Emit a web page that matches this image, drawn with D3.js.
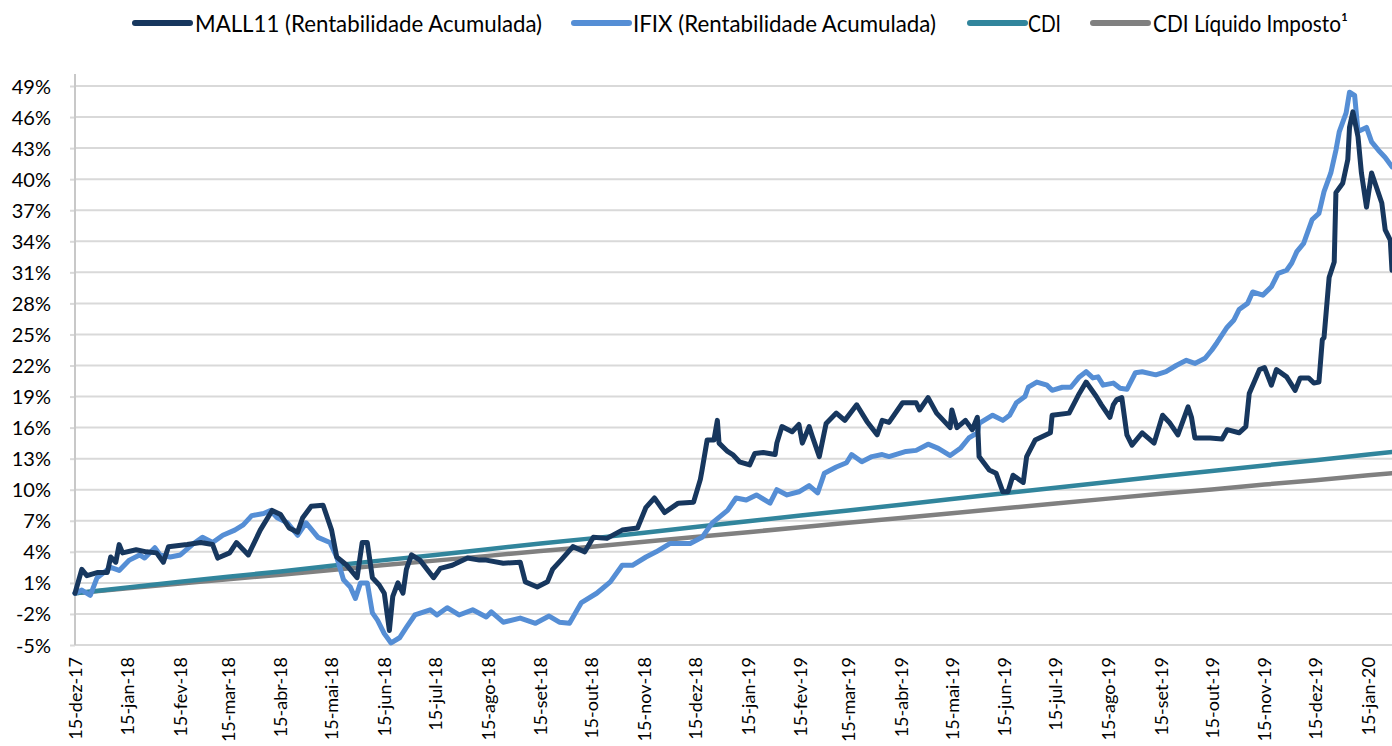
<!DOCTYPE html>
<html>
<head>
<meta charset="utf-8">
<script src="https://cdn.jsdelivr.net/npm/d3@7"></script>
<style>
  body { margin: 0; background: #fff; }
  text { font-family: Lato, "Noto Sans", sans-serif; fill: #000; }
</style>
</head>
<body>
<div id="chart"></div>
<script>
// chart values (days counted from 15-dez-17)
var mallDays = [0,4,7,13,19,21,24,26,28,36,42,48,52,55,66,74,81,84,91,95,102,109,116,121,126,131,134,139,146,151,154,160,166,169,172,175,179,182,185,187,190,193,195,198,203,211,215,222,231,238,242,252,262,265,272,278,281,286,293,300,305,313,322,331,336,341,347,355,364,368,369,372,376,378,379,384,387,391,397,400,405,412,413,416,422,426,428,432,434,438,442,448,453,460,466,472,475,479,487,495,497,502,507,515,516,519,524,528,531,532,538,542,546,549,552,558,560,565,574,575,585,591,595,601,604,609,611,613,616,619,622,628,635,640,644,649,655,657,659,668,675,678,685,689,691,697,700,704,707,713,718,721,726,729,732,734,735,738,741,742,746,749,750,752,755,757,760,763,769,771,774,775];
var mallValues = [0,2.3,1.7,2.0,2.0,3.5,3.0,4.7,3.9,4.2,4.0,3.9,3.0,4.5,4.7,4.9,4.7,3.4,3.9,4.9,3.7,6.1,8.0,7.6,6.3,5.9,7.3,8.4,8.5,6.1,3.5,2.7,1.5,4.9,4.9,1.5,0.8,0,-3.6,-0.3,1.0,0,2.3,3.7,3.2,1.5,2.4,2.7,3.4,3.2,3.2,2.9,3.0,1.1,0.6,1.1,2.3,3.2,4.5,4.0,5.4,5.3,6.1,6.3,8.3,9.2,7.8,8.7,8.8,11.0,11.9,14.8,14.8,16.7,14.5,13.7,13.4,12.7,12.4,13.5,13.6,13.4,14.5,16.1,15.6,16.3,14.5,16.1,15.1,13.2,16.4,17.4,16.7,18.2,16.6,15.3,16.7,16.5,18.4,18.4,17.7,18.9,17.4,16.0,17.7,16.0,16.7,15.8,17.0,13.2,11.9,11.6,9.8,9.8,11.4,10.7,13.2,14.8,15.5,17.2,17.4,19.3,20.4,19.0,18.2,17.0,18.2,18.7,18.9,15.3,14.3,15.5,14.5,17.2,16.5,15.3,18.0,17.0,15.0,15.0,14.9,15.8,15.5,16.1,19.3,21.6,21.8,20.1,21.6,20.9,19.6,20.8,20.8,20.3,20.4,24.5,24.7,30.5,32.0,38.7,39.6,41.9,45.0,46.5,44.1,40.6,37.3,40.6,37.7,35.1,34.1,31.2];

var ifixDays = [0,4,9,13,21,26,32,38,41,47,50,56,62,69,75,81,87,94,99,104,111,115,119,125,131,136,143,150,154,158,162,165,168,172,175,178,182,186,191,195,200,209,213,219,226,234,242,245,252,262,271,279,285,291,298,307,315,322,328,336,342,350,353,362,369,375,384,389,395,401,409,413,419,426,432,437,441,448,454,457,463,469,475,479,489,495,502,508,515,521,526,531,532,540,546,550,554,559,561,566,572,575,581,586,591,595,599,602,605,611,615,619,624,628,636,642,648,654,659,665,669,672,678,682,685,690,693,699,704,708,713,716,719,723,728,732,735,739,742,744,748,750,753,755,760,763,767,771,775];
var ifixValues = [0,0.3,-0.2,1.5,2.5,2.2,3.2,3.7,3.4,4.4,3.7,3.5,3.7,4.7,5.4,4.9,5.6,6.1,6.6,7.5,7.7,8.0,7.3,6.8,5.6,6.8,5.4,4.9,3.5,1.3,0.6,-0.5,1.0,1.0,-1.9,-2.6,-3.9,-4.8,-4.3,-3.3,-2.1,-1.6,-2.1,-1.4,-2.1,-1.6,-2.3,-1.8,-2.8,-2.4,-2.9,-2.2,-2.8,-2.9,-0.9,0,1.1,2.7,2.7,3.5,4.0,4.8,4.8,4.8,5.4,6.8,8.0,9.2,9.0,9.5,8.7,10.0,9.5,9.8,10.4,9.7,11.6,12.2,12.6,13.4,12.7,13.2,13.4,13.2,13.7,13.8,14.4,14.0,13.3,14.0,15.0,15.5,16.4,17.2,16.7,17.2,18.4,19.0,19.9,20.4,20.1,19.6,19.9,19.9,20.9,21.4,20.8,20.9,20.1,20.3,19.8,19.7,21.3,21.4,21.1,21.4,22.0,22.5,22.2,22.7,23.5,24.2,25.7,26.4,27.4,28.0,29.1,28.8,29.6,30.9,31.2,31.9,33.0,33.8,36.1,36.7,38.8,40.6,42.8,44.6,46.4,48.4,48.1,44.6,45.0,43.6,42.8,42.1,41.2];

var cdiDays = [0,31,62,90,121,151,182,212,243,274,304,335,365,396,427,455,486,516,547,577,608,639,669,700,730,761,775];
var cdiValues = [0,0.55,1.1,1.6,2.1,2.65,3.2,3.7,4.25,4.8,5.3,5.85,6.4,6.95,7.5,8.0,8.55,9.1,9.65,10.2,10.75,11.3,11.8,12.35,12.85,13.4,13.65];
var cdiLiqValues = [0,0.47,0.94,1.36,1.79,2.25,2.72,3.15,3.61,4.08,4.5,4.97,5.44,5.9,6.37,6.8,7.27,7.73,8.2,8.67,9.14,9.6,10.03,10.5,10.92,11.39,11.6];

var xTickLabels = ["15-dez-17","15-jan-18","15-fev-18","15-mar-18","15-abr-18","15-mai-18","15-jun-18","15-jul-18","15-ago-18","15-set-18","15-out-18","15-nov-18","15-dez-18","15-jan-19","15-fev-19","15-mar-19","15-abr-19","15-mai-19","15-jun-19","15-jul-19","15-ago-19","15-set-19","15-out-19","15-nov-19","15-dez-19","15-jan-20"];
var yTicks = [-5,-2,1,4,7,10,13,16,19,22,25,28,31,34,37,40,43,46,49];

var seriesNames = ["MALL11 (Rentabilidade Acumulada)", "IFIX (Rentabilidade Acumulada)", "CDI", "CDI Líquido Imposto¹"];
var seriesColors = ["#17375e", "#558ed5", "#31859c", "#808080"];

var svgWidth = 1392;
var svgHeight = 746;
var plot = { left: 75, right: 1392, top: 86, bottom: 645 };

var svg = d3.select("#chart").append("svg")
    .attr("width", svgWidth)
    .attr("height", svgHeight);

var startDate = new Date(2017, 11, 15);
var dayToDate = d => d3.timeDay.offset(startDate, d);

var xScale = d3.scaleTime()
    .domain([startDate, dayToDate(775)])
    .range([plot.left, plot.right]);

var yScale = d3.scaleLinear()
    .domain([-5, 49])
    .range([plot.bottom, plot.top]);

// parse "15-dez-17" style labels into dates
var ptMonths = ["jan","fev","mar","abr","mai","jun","jul","ago","set","out","nov","dez"];
function parseLabel(s) {
    var p = s.split("-");
    return new Date(2000 + (+p[2]), ptMonths.indexOf(p[1]), +p[0]);
}

// gridlines + y axis
var yAxis = d3.axisLeft(yScale)
    .tickValues(yTicks)
    .tickSize(5)
    .tickPadding(19)
    .tickFormat(d => d + "%");

var yAxisG = svg.append("g")
    .attr("transform", `translate(${plot.left}, 0)`)
    .call(yAxis);
yAxisG.select(".domain").remove();
yAxisG.selectAll(".tick line").attr("stroke", "#d9d9d9").attr("stroke-width", 2);
yAxisG.selectAll(".tick text")
    .attr("font-size", "20px")
    .attr("font-family", "Lato, 'Noto Sans', sans-serif")
    .attr("fill", "#000")
    .attr("dy", "0.35em");

svg.append("g").selectAll("line")
    .data(yTicks)
    .enter()
    .append("line")
    .attr("x1", plot.left)
    .attr("x2", plot.right)
    .attr("y1", d => yScale(d))
    .attr("y2", d => yScale(d))
    .attr("stroke", "#d9d9d9")
    .attr("stroke-width", 2);

svg.append("line")
    .attr("x1", plot.left).attr("x2", plot.left)
    .attr("y1", plot.top - 12).attr("y2", plot.bottom)
    .attr("stroke", "#c8c8c8")
    .attr("stroke-width", 2);

// x axis labels (rotated)
var xAxis = d3.axisBottom(xScale)
    .tickValues(xTickLabels.map(parseLabel))
    .tickSize(0)
    .tickFormat((d, i) => xTickLabels[i]);

var xAxisG = svg.append("g")
    .attr("transform", `translate(0, ${plot.bottom})`)
    .call(xAxis);
xAxisG.select(".domain").remove();
xAxisG.selectAll(".tick text")
    .attr("font-size", "18px")
    .attr("font-family", "Lato, 'Noto Sans', sans-serif")
    .attr("fill", "#000")
    .attr("text-anchor", "end")
    .attr("transform", "rotate(-90)")
    .attr("x", -12)
    .attr("y", 0)
    .attr("dy", "0.35em");

// lines
var line = d3.line()
    .x(d => xScale(dayToDate(d[0])))
    .y(d => yScale(d[1]));

function drawSeries(days, values, color, width) {
    svg.append("path")
        .datum(d3.zip(days, values))
        .attr("fill", "none")
        .attr("stroke", color)
        .attr("stroke-width", width)
        .attr("stroke-linejoin", "round")
        .attr("stroke-linecap", "round")
        .attr("d", line);
}

drawSeries(cdiDays, cdiLiqValues, seriesColors[3], 4.5);
drawSeries(cdiDays, cdiValues, seriesColors[2], 4.5);
drawSeries(ifixDays, ifixValues, seriesColors[1], 5);
drawSeries(mallDays, mallValues, seriesColors[0], 5);

// legend
var legendX = [135, 574, 970, 1093];
var legendTextX = [195, 633, 1028, 1153];
var legendTextW = [347, 303, 33, 195];
var legend = svg.append("g");
seriesNames.forEach((name, i) => {
    legend.append("line")
        .attr("x1", legendX[i]).attr("x2", legendX[i] + 55)
        .attr("y1", 23).attr("y2", 23)
        .attr("stroke", seriesColors[i])
        .attr("stroke-width", 6)
        .attr("stroke-linecap", "round");
    legend.append("text")
        .attr("x", legendTextX[i])
        .attr("y", 32)
        .attr("font-size", "23px")
        .attr("textLength", legendTextW[i])
        .attr("lengthAdjust", "spacingAndGlyphs")
        .text(name);
});
</script>
</body>
</html>
